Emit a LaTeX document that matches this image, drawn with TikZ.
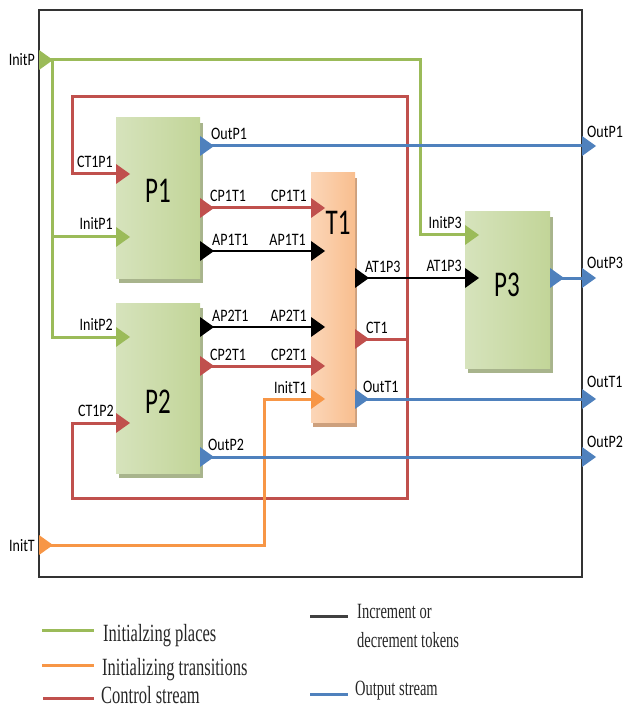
\documentclass[tikz,border=0pt]{standalone}
\usepackage{fontspec}
\setmainfont{Liberation Serif}
\newfontfamily\calib{Carlito}
\usepackage{tikz}
\usetikzlibrary{decorations.markings,backgrounds}
\definecolor{cgreen}{RGB}{155,187,89}
\definecolor{cred}{RGB}{192,80,77}
\definecolor{cblue}{RGB}{79,129,189}
\definecolor{corange}{RGB}{247,150,70}
\definecolor{pgA}{RGB}{214,227,188}
\definecolor{pgM}{RGB}{236,242,224}
\definecolor{pgB}{RGB}{194,213,152}
\definecolor{toA}{RGB}{251,214,184}
\definecolor{toM}{RGB}{253,234,218}
\definecolor{toB}{RGB}{249,190,142}
\definecolor{pshad}{RGB}{168,180,140}
\definecolor{tshad}{RGB}{205,160,125}
\tikzstyle{plab}=[font=\calib\fontsize{14}{16}\selectfont, inner sep=0pt, yscale=1.25]
\tikzstyle{blab}=[font=\calib\fontsize{25}{28}\selectfont, inner sep=0pt, yscale=1.45]
\tikzstyle{llab}=[inner sep=0pt, yscale=1.5, text=black!85]
\tikzset{outport/.style={postaction={decorate,decoration={
      markings,
      mark=at position 0 with {\fill[#1] (0,-10) -- (14,0) -- (0,10) -- cycle;}}}}}
\tikzset{inport/.style={postaction={decorate,decoration={
      markings,
      mark=at position 1 with {\fill[#1] (0,-10) -- (14,0) -- (0,10) -- cycle;}}}}}
\tikzset{gline/.style={draw=cgreen, line width=3pt},
  rline/.style={draw=cred, line width=3pt},
  bline/.style={draw=cblue, line width=3pt},
  oline/.style={draw=corange, line width=3pt},
  kline/.style={draw=black, line width=2.2pt},
  pbox/.style={left color=pgA, middle color=pgM, right color=pgB, inner sep=0pt},
  tbox/.style={left color=toA, middle color=toM, right color=toB, inner sep=0pt}}

\begin{document}
\begin{tikzpicture}[x=1pt,y=-1pt]
    \useasboundingbox (0,0) rectangle (624,708);
    \draw[black!80, line width=1.3pt] (39,10) rectangle (582,577);

    % blocks
    \node[pbox, minimum width=84pt, minimum height=160pt] (P1) at (158,198) {};
    \node[pbox, minimum width=84pt, minimum height=170pt] (P2) at (158,388) {};
    \node[tbox, minimum width=44pt, minimum height=249pt] (T1) at (333,297.5) {};
    \node[pbox, minimum width=85pt, minimum height=156pt] (P3) at (507.5,290) {};
    \begin{scope}[on background layer]
      \foreach \b in {P1,P2,P3}
        \fill[pshad] ([xshift=3pt,yshift=-5pt]\b.south west) rectangle ([xshift=3pt,yshift=-5pt]\b.north east);
      \fill[tshad] ([xshift=2pt,yshift=-5pt]T1.south west) rectangle ([xshift=2pt,yshift=-5pt]T1.north east);
    \end{scope}
    \node[blab] (P1l) at (158,191) {P1};
    \node[blab] (P2l) at (158,402) {P2};
    \node[blab] (T1l) at (338,223) {T1};
    \node[blab] (P3l) at (507,285) {P3};

    % ports
    \coordinate (InitP) at (39,60);
    \coordinate (InitT) at (39,545);
    \coordinate (P1-ct) at (116,174);
    \coordinate (P1-init) at (116,237);
    \coordinate (P1-out) at (200,146);
    \coordinate (P1-cp) at (200,208);
    \coordinate (P1-ap) at (200,251);
    \coordinate (P2-init) at (116,337);
    \coordinate (P2-ct) at (116,423);
    \coordinate (P2-ap) at (200,327);
    \coordinate (P2-cp) at (200,366);
    \coordinate (P2-out) at (200,457);
    \coordinate (T1-cp1) at (311,208);
    \coordinate (T1-ap1) at (311,251);
    \coordinate (T1-ap2) at (311,327);
    \coordinate (T1-cp2) at (311,366);
    \coordinate (T1-init) at (311,399);
    \coordinate (T1-at) at (355,278);
    \coordinate (T1-ct) at (355,339);
    \coordinate (T1-out) at (355,399);
    \coordinate (P3-init) at (465,235);
    \coordinate (P3-at) at (465,278);
    \coordinate (P3-out) at (550,278);
    \coordinate (OutP1) at (582,146);
    \coordinate (OutP3) at (582,278);
    \coordinate (OutT1) at (582,399);
    \coordinate (OutP2) at (582,457);
    % bends
    \coordinate (gv) at (52,60);
    \coordinate (gj) at (52,237);
    \coordinate (g3) at (420,235);
    \coordinate (rj) at (407,339);
    \coordinate (rtl) at (72,97);
    \coordinate (rbl) at (72,498);
    \coordinate (o1) at (264,399);

    % initializing places
    \draw[gline, outport=cgreen, inport=cgreen] (InitP) -| (g3) -- (P3-init);
    \draw[gline, inport=cgreen] (gv) |- (P2-init);
    \draw[gline, inport=cgreen] (gj) -- (P1-init);
    % control stream
    \draw[rline, inport=cred] (rj) |- (rtl) |- (P1-ct);
    \draw[rline, inport=cred] (rj) |- (rbl) |- (P2-ct);
    \draw[rline, outport=cred] (T1-ct) -- (rj);
    \draw[rline, outport=cred, inport=cred] (P1-cp) -- (T1-cp1);
    \draw[rline, outport=cred, inport=cred] (P2-cp) -- (T1-cp2);
    % tokens
    \draw[kline, outport=black, inport=black] (P1-ap) -- (T1-ap1);
    \draw[kline, outport=black, inport=black] (P2-ap) -- (T1-ap2);
    \draw[kline, outport=black, inport=black] (T1-at) -- (P3-at);
    % initializing transitions
    \draw[oline, outport=corange, inport=corange] (InitT) -| (o1) -- (T1-init);
    % outputs
    \draw[bline, outport=cblue, inport=cblue] (P1-out) -- (OutP1);
    \draw[bline, outport=cblue, inport=cblue] (P3-out) -- (OutP3);
    \draw[bline, outport=cblue, inport=cblue] (T1-out) -- (OutT1);
    \draw[bline, outport=cblue, inport=cblue] (P2-out) -- (OutP2);

    % port labels
    \node[plab, anchor=east] (InitPl) at (35,60) {InitP};
    \node[plab, anchor=east] (InitTl) at (35,546) {InitT};
    \node[plab, anchor=base east] (ct1p1) at (113,168) {CT1P1};
    \node[plab, anchor=base east] (initp1) at (113,230) {InitP1};
    \node[plab, anchor=base east] (initp2) at (113,330) {InitP2};
    \node[plab, anchor=base east] (ct1p2) at (114,416) {CT1P2};
    \node[plab, anchor=base west] (outp1a) at (211,140) {OutP1};
    \node[plab, anchor=base west] (cp1t1a) at (210,202) {CP1T1};
    \node[plab, anchor=base west] (ap1t1a) at (212,246) {AP1T1};
    \node[plab, anchor=base west] (ap2t1a) at (212,321) {AP2T1};
    \node[plab, anchor=base west] (cp2t1a) at (210,360) {CP2T1};
    \node[plab, anchor=base west] (outp2a) at (208,450) {OutP2};
    \node[plab, anchor=base east] (cp1t1b) at (307,202) {CP1T1};
    \node[plab, anchor=base east] (ap1t1b) at (306,246) {AP1T1};
    \node[plab, anchor=base east] (ap2t1b) at (307,321) {AP2T1};
    \node[plab, anchor=base east] (cp2t1b) at (307,360) {CP2T1};
    \node[plab, anchor=base east] (initt1) at (307,393) {InitT1};
    \node[plab, anchor=base west] (at1p3a) at (365,272) {AT1P3};
    \node[plab, anchor=base west] (ct1) at (366,333) {CT1};
    \node[plab, anchor=base west] (outt1a) at (363,392) {OutT1};
    \node[plab, anchor=base east] (initp3) at (462,229) {InitP3};
    \node[plab, anchor=base east] (at1p3b) at (462,271) {AT1P3};
    \node[plab, anchor=base west] (outp1b) at (587,138) {OutP1};
    \node[plab, anchor=base west] (outp3b) at (587,268) {OutP3};
    \node[plab, anchor=base west] (outt1b) at (587,387) {OutT1};
    \node[plab, anchor=base west] (outp2b) at (587,447) {OutP2};

    % legend
    \coordinate (lg1) at (42,630);  \coordinate (lg2) at (94,630);
    \coordinate (lo1) at (42,665);  \coordinate (lo2) at (94,665);
    \coordinate (lr1) at (43,698);  \coordinate (lr2) at (94,698);
    \coordinate (lk1) at (310,616); \coordinate (lk2) at (348,616);
    \coordinate (lb1) at (310,694); \coordinate (lb2) at (348,694);
    \draw[gline] (lg1) -- (lg2);
    \draw[oline] (lo1) -- (lo2);
    \draw[rline] (lr1) -- (lr2);
    \draw[draw=black!75, line width=3pt] (lk1) -- (lk2);
    \draw[bline] (lb1) -- (lb2);
    \node[llab, font=\fontsize{16.5}{18}\selectfont, anchor=base west] (legg) at (103,641) {Initialzing places};
    \node[llab, font=\fontsize{16.5}{18}\selectfont, anchor=base west] (lego) at (102,675) {Initializing transitions};
    \node[llab, font=\fontsize{16.5}{18}\selectfont, anchor=base west] (legr) at (101,703) {Control stream};
    \node[llab, font=\fontsize{14.5}{16}\selectfont, anchor=base west] (legk1) at (357,618) {Increment or};
    \node[llab, font=\fontsize{14.5}{16}\selectfont, anchor=base west] (legk2) at (357,647) {decrement tokens};
    \node[llab, font=\fontsize{14.5}{16}\selectfont, anchor=base west] (legb) at (355,695) {Output stream};
  \end{tikzpicture}
\end{document}
